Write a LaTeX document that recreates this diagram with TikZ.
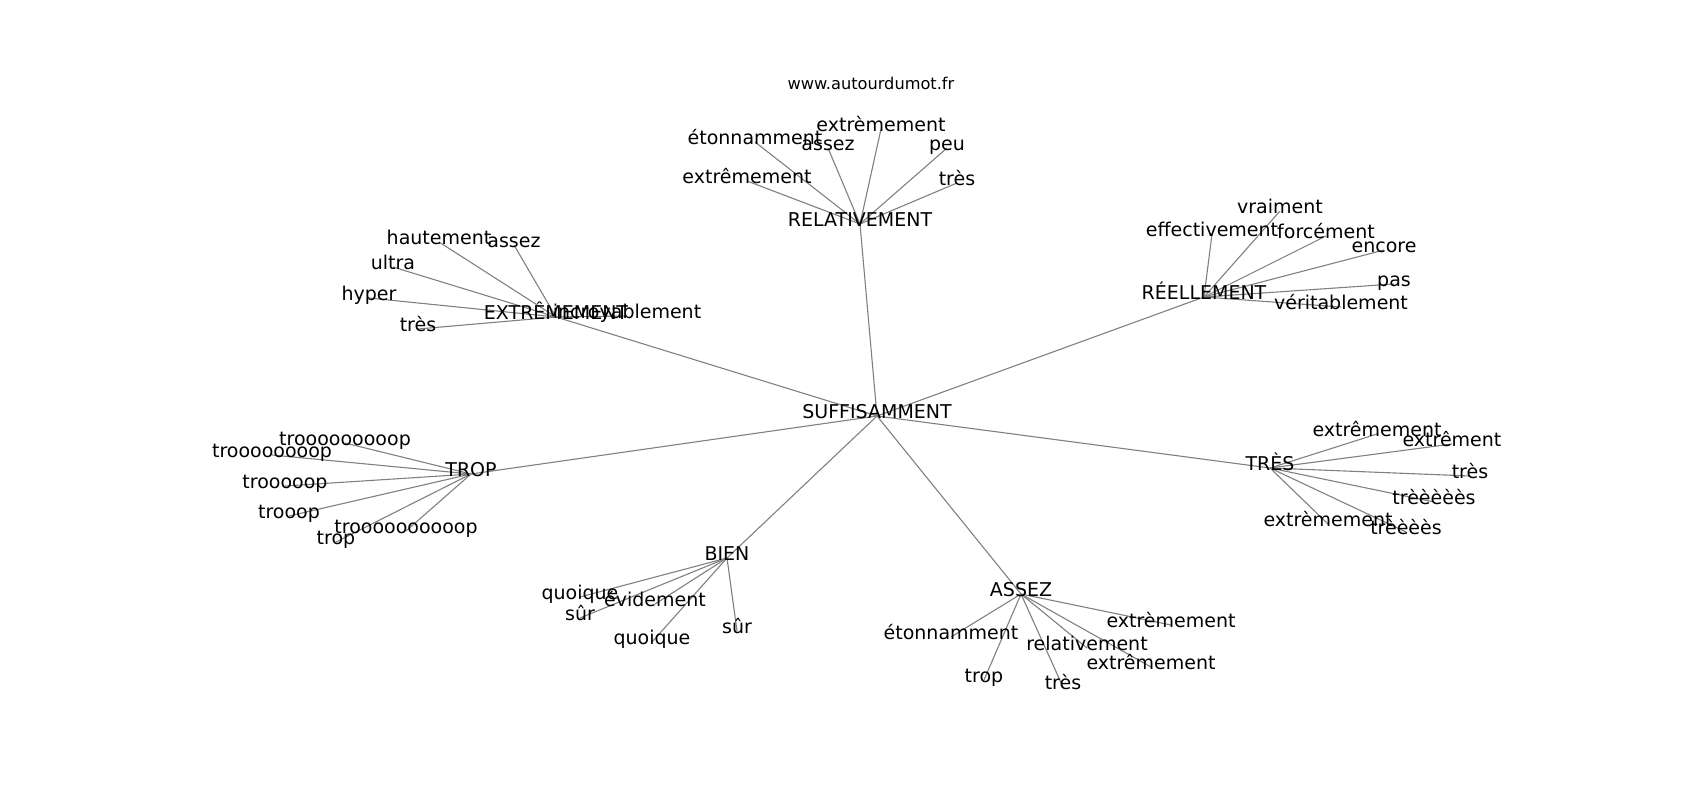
\documentclass[tikz,border=0pt]{standalone}
\usepackage{fontspec}
\setmainfont{DejaVu Sans}
\usetikzlibrary{backgrounds}
\tikzset{
  lbl/.style={font=\fontsize{19}{22}\selectfont, inner sep=0pt, text height=0.76em, text depth=0.24em, text=black},
  ttl/.style={font=\fontsize{16.2}{19}\selectfont, inner sep=0pt, text height=0.76em, text depth=0.24em, text=black},
  edge/.style={draw=gray, line width=1.1pt}
}
\begin{document}
\begin{tikzpicture}[x=1pt,y=-1pt]
\useasboundingbox (0,0) rectangle (1700,800);
\begin{scope}[shift={(0,4)}]
\node[ttl] (title) at (871,83) {www.autourdumot.fr};
% hubs
\node[lbl] (suf) at (877,412) {SUFFISAMMENT};
\node[lbl] (rel) at (860,220) {RELATIVEMENT};
\node[lbl] (ext) at (556,313) {EXTRÊMEMENT};
\node[lbl] (ree) at (1204,293) {RÉELLEMENT};
\node[lbl] (trp) at (471,470) {TROP};
\node[lbl] (tre) at (1270,464) {TRÈS};
\node[lbl] (bie) at (727,554) {BIEN};
\node[lbl] (ass) at (1021,590) {ASSEZ};
% RELATIVEMENT leaves
\node[lbl] (r1) at (755,138) {étonnamment};
\node[lbl] (r2) at (828,144) {assez};
\node[lbl] (r3) at (881,125) {extrèmement};
\node[lbl] (r4) at (947,144) {peu};
\node[lbl] (r5) at (957,179) {très};
\node[lbl] (r6) at (747,177) {extrêmement};
% EXTREMEMENT leaves
\node[lbl] (e1) at (439,238) {hautement};
\node[lbl] (e2) at (514,241) {assez};
\node[lbl] (e3) at (393,263) {ultra};
\node[lbl] (e4) at (369,294) {hyper};
\node[lbl] (e5) at (418,325) {très};
\node[lbl] (e6) at (627,312) {incroyablement};
% REELLEMENT leaves
\node[lbl] (f1) at (1280,207) {vraiment};
\node[lbl] (f2) at (1212,230) {effectivement};
\node[lbl] (f3) at (1326,232) {forcément};
\node[lbl] (f4) at (1384,246) {encore};
\node[lbl] (f5) at (1394,280) {pas};
\node[lbl] (f6) at (1341,303) {véritablement};
% TROP leaves
\node[lbl] (t1) at (345,439) {trooooooooop};
\node[lbl] (t2) at (272,451) {troooooooop};
\node[lbl] (t3) at (285,482) {trooooop};
\node[lbl] (t4) at (289,512) {trooop};
\node[lbl] (t5) at (406,527) {troooooooooop};
\node[lbl] (t6) at (336,538) {trop};
% TRES leaves
\node[lbl] (s1) at (1377,430) {extrêmement};
\node[lbl] (s2) at (1452,440) {extrêment};
\node[lbl] (s3) at (1470,472) {très};
\node[lbl] (s4) at (1434,498) {trèèèèès};
\node[lbl] (s5) at (1406,528) {trèèèès};
\node[lbl] (s6) at (1328,520) {extrèmement};
% BIEN leaves
\node[lbl] (b1) at (580,593) {quoique};
\node[lbl] (b2) at (580,614) {sûr};
\node[lbl] (b3) at (655,600) {évidement};
\node[lbl] (b4) at (652,638) {quoique};
\node[lbl] (b5) at (737,627) {sûr};
% ASSEZ leaves
\node[lbl] (a1) at (951,633) {étonnamment};
\node[lbl] (a2) at (984,676) {trop};
\node[lbl] (a3) at (1063,683) {très};
\node[lbl] (a4) at (1087,644) {relativement};
\node[lbl] (a5) at (1151,663) {extrêmement};
\node[lbl] (a6) at (1171,621) {extrèmement};
\end{scope}
\begin{pgfonlayer}{background}
\foreach \h in {rel,ext,ree,trp,tre,bie,ass}
  \draw[edge] (suf.center) -- (\h.center);
\foreach \l in {r1,r2,r3,r4,r5,r6}
  \draw[edge] (rel.center) -- (\l.center);
\foreach \l in {e1,e2,e3,e4,e5,e6}
  \draw[edge] (ext.center) -- (\l.center);
\foreach \l in {f1,f2,f3,f4,f5,f6}
  \draw[edge] (ree.center) -- (\l.center);
\foreach \l in {t1,t2,t3,t4,t5,t6}
  \draw[edge] (trp.center) -- (\l.center);
\foreach \l in {s1,s2,s3,s4,s5,s6}
  \draw[edge] (tre.center) -- (\l.center);
\foreach \l in {b1,b2,b3,b4,b5}
  \draw[edge] (bie.center) -- (\l.center);
\foreach \l in {a1,a2,a3,a4,a5,a6}
  \draw[edge] (ass.center) -- (\l.center);
\end{pgfonlayer}
\end{tikzpicture}
\end{document}
